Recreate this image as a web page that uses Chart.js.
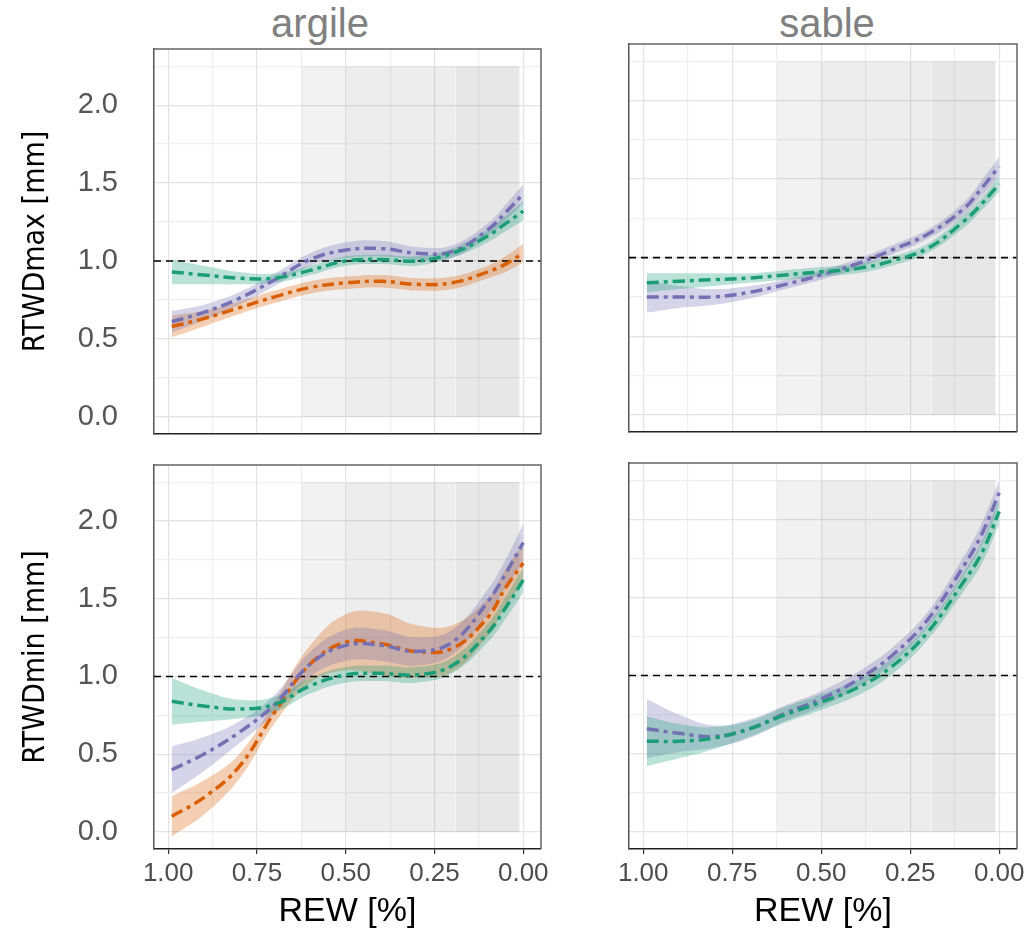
<!DOCTYPE html>
<html>
<head>
<meta charset="utf-8">
<script src="https://cdn.jsdelivr.net/npm/chart.js@4.4.1/dist/chart.umd.min.js"></script>
<style>
  body { margin: 0; background: #fff; width: 1033px; height: 942px; position: relative; overflow: hidden;
         font-family: "Liberation Sans", Arial, sans-serif; }
  .box { position: absolute; }
  .strip { position: absolute; top: 3px; font-size: 40px; line-height: 40px; color: #808080;
           transform: translateX(-50%); white-space: nowrap; }
</style>
</head>
<body>
<div class="strip" style="left:320px">argile</div>
<div class="strip" style="left:827px">sable</div>
<div class="box" style="left:0;top:0"><canvas id="tl" width="548" height="440"></canvas></div>
<div class="box" style="left:600px;top:0"><canvas id="tr" width="433" height="440"></canvas></div>
<div class="box" style="left:0;top:455px"><canvas id="bl" width="548" height="487"></canvas></div>
<div class="box" style="left:600px;top:455px"><canvas id="br" width="433" height="487"></canvas></div>
<script>
// REW values where the smoothed curves were read
const rew = [0.99, 0.9, 0.8, 0.7, 0.6, 0.5, 0.4, 0.3, 0.2, 0.1, 0.05, 0];
const xTicks = [0, 0.125, 0.25, 0.375, 0.5, 0.625, 0.75, 0.875, 1];
const yTicks = [0, 0.25, 0.5, 0.75, 1, 1.25, 1.5, 1.75, 2, 2.25];
const refLevel = 1.0;
// drought window (shaded), REW edges of the three bands and their top
const shadeEdges = [0.625, 0.5, 0.19, 0.01];
const shadeTop = 2.25;

// argile, RTWDmax
const maxArgileGreen  = [0.93, 0.91, 0.89, 0.89, 0.94, 1.00, 1.01, 1.00, 1.05, 1.16, 1.24, 1.32];
const maxArgileGreenCI = [0.08, 0.06, 0.04, 0.03, 0.03, 0.03, 0.03, 0.03, 0.03, 0.04, 0.05, 0.06];
const maxArgileOrange = [0.58, 0.63, 0.70, 0.77, 0.83, 0.86, 0.87, 0.85, 0.86, 0.93, 0.98, 1.05];
const maxArgileOrangeCI = [0.07, 0.05, 0.04, 0.04, 0.04, 0.04, 0.04, 0.04, 0.04, 0.04, 0.05, 0.06];
const maxArgilePurple = [0.61, 0.67, 0.76, 0.88, 1.01, 1.07, 1.08, 1.05, 1.06, 1.20, 1.31, 1.43];
const maxArgilePurpleCI = [0.07, 0.05, 0.04, 0.04, 0.04, 0.05, 0.05, 0.04, 0.04, 0.04, 0.05, 0.06];

// sable, RTWDmax
const maxSableGreen  = [0.84, 0.85, 0.86, 0.87, 0.89, 0.91, 0.93, 0.98, 1.06, 1.23, 1.34, 1.47];
const maxSableGreenCI = [0.06, 0.05, 0.04, 0.03, 0.03, 0.03, 0.03, 0.03, 0.03, 0.04, 0.04, 0.05];
const maxSablePurple = [0.75, 0.75, 0.75, 0.78, 0.83, 0.89, 0.96, 1.05, 1.15, 1.31, 1.44, 1.58];
const maxSablePurpleCI = [0.10, 0.07, 0.05, 0.04, 0.03, 0.03, 0.03, 0.03, 0.03, 0.04, 0.05, 0.06];

// argile, RTWDmin
const minArgileGreen  = [0.84, 0.81, 0.79, 0.82, 0.94, 1.01, 1.02, 1.01, 1.07, 1.28, 1.44, 1.62];
const minArgileGreenCI = [0.15, 0.10, 0.06, 0.05, 0.05, 0.05, 0.05, 0.05, 0.05, 0.06, 0.07, 0.08];
const minArgileOrange = [0.10, 0.22, 0.42, 0.77, 1.08, 1.22, 1.21, 1.16, 1.18, 1.38, 1.57, 1.73];
const minArgileOrangeCI = [0.13, 0.11, 0.08, 0.07, 0.12, 0.18, 0.20, 0.17, 0.15, 0.12, 0.12, 0.12];
const minArgilePurple = [0.40, 0.50, 0.64, 0.82, 1.08, 1.20, 1.20, 1.16, 1.22, 1.48, 1.66, 1.86];
const minArgilePurpleCI = [0.15, 0.11, 0.07, 0.06, 0.08, 0.10, 0.10, 0.09, 0.08, 0.08, 0.09, 0.12];

// sable, RTWDmin
const minSableGreen  = [0.58, 0.58, 0.60, 0.66, 0.75, 0.83, 0.92, 1.06, 1.28, 1.60, 1.78, 2.05];
const minSableGreenCI = [0.16, 0.11, 0.07, 0.05, 0.05, 0.05, 0.05, 0.05, 0.05, 0.06, 0.07, 0.08];
const minSablePurple = [0.66, 0.63, 0.61, 0.66, 0.76, 0.85, 0.97, 1.13, 1.36, 1.70, 1.90, 2.17];
const minSablePurpleCI = [0.19, 0.12, 0.07, 0.06, 0.05, 0.05, 0.05, 0.05, 0.05, 0.06, 0.07, 0.08];

const GREEN = "27,158,119", ORANGE = "217,95,2", PURPLE = "117,112,179";
const shadeColors = ["rgba(0,0,0,0.05)", "rgba(0,0,0,0.07)", "rgba(0,0,0,0.095)"];
const isMajor = v => Math.abs(v * 4 - Math.round(v * 4)) < 1e-6;
const isHalf = v => Math.abs(v * 2 - Math.round(v * 2)) < 1e-6;
const pts = (ys, shift) => rew.map((x, i) => ({ x, y: ys[i] + (shift ? shift[i] : 0) }));
const neg = a => a.map(v => -v);

function seriesSets(vals, ci, rgb) {
  return [
    { data: pts(vals, neg(ci)), borderWidth: 0, pointRadius: 0, fill: false, tension: 0.4, order: 10 },
    { data: pts(vals, ci), borderWidth: 0, pointRadius: 0, fill: "-1", tension: 0.4,
      backgroundColor: `rgba(${rgb},0.3)`, order: 10 },
    { data: pts(vals), borderColor: `rgb(${rgb})`, borderWidth: 3.5, borderDash: [12, 5, 4, 5],
      pointRadius: 0, fill: false, tension: 0.4, order: 1 },
  ];
}

function buildDatasets(series) {
  const sets = [];
  for (let i = 0; i < shadeEdges.length - 1; i++) {
    sets.push({
      data: [{ x: shadeEdges[i], y: shadeTop }, { x: shadeEdges[i + 1], y: shadeTop }],
      borderWidth: 0, pointRadius: 0, fill: "origin", backgroundColor: shadeColors[i], order: 20,
    });
  }
  sets.push({
    data: [{ x: 1.04, y: refLevel }, { x: -0.05, y: refLevel }],
    borderColor: "#000", borderWidth: 1.6, borderDash: [7, 5], pointRadius: 0, fill: false, order: 5,
  });
  series.forEach(s => sets.push(...seriesSets(s[0], s[1], s[2])));
  return sets;
}

const frame = {
  id: "frame",
  afterDraw(chart) {
    const { ctx, chartArea: a } = chart;
    ctx.save();
    ctx.strokeStyle = "#666";
    ctx.lineWidth = 1.5;
    ctx.beginPath();
    ctx.moveTo(a.left, a.top);
    ctx.lineTo(a.right, a.top);
    ctx.lineTo(a.right, a.bottom);
    ctx.stroke();
    ctx.restore();
  },
};

function makeChart(id, p) {
  new Chart(document.getElementById(id), {
    type: "line",
    data: { datasets: buildDatasets(p.series) },
    options: {
      responsive: false,
      animation: false,
      layout: { padding: p.pad },
      plugins: { legend: { display: false }, tooltip: { enabled: false } },
      scales: {
        x: {
          type: "linear", reverse: true, min: -0.05, max: 1.04,
          afterBuildTicks: s => { s.ticks = xTicks.map(v => ({ value: v })); },
          afterFit: s => { s.height = p.xh; s.paddingLeft = 0; s.paddingRight = 0; },
          grid: {
            color: c => (isMajor(c.tick.value) ? "#e3e3e3" : "#efefef"),
            lineWidth: 1.2,
            drawTicks: p.bottom,
            tickLength: 5,
            tickColor: c => (isMajor(c.tick.value) ? "#333" : "rgba(0,0,0,0)"),
          },
          border: { color: "#222", width: 1.6 },
          ticks: {
            display: p.bottom, autoSkip: false, maxRotation: 0, padding: 4, color: "#4d4d4d",
            font: { family: '"Liberation Sans", Arial', size: 26 },
            callback: v => (isMajor(v) ? v.toFixed(2) : ""),
          },
          title: {
            display: p.bottom, text: "REW [%]", color: "#000",
            font: { family: '"Liberation Sans", Arial', size: 34 },
            padding: { top: 0, bottom: 10 },
          },
        },
        y: {
          type: "linear", min: -0.11, max: 2.36,
          afterBuildTicks: s => { s.ticks = yTicks.map(v => ({ value: v })); },
          // keep the panel edge fixed: no extra room for the end labels
          afterFit: s => { s.width = p.yw; s.paddingTop = 0; s.paddingBottom = 0; },
          grid: {
            color: c => (isHalf(c.tick.value) ? "#e3e3e3" : "#efefef"),
            lineWidth: 1.2,
            drawTicks: false,
          },
          border: { color: "#555", width: 1.5 },
          ticks: {
            display: p.left, autoSkip: false, padding: 36, color: "#555",
            font: { family: '"Liberation Sans", Arial', size: 29 },
            callback: v => (isHalf(v) ? v.toFixed(1) : ""),
          },
          title: {
            display: p.left, text: p.ytitle, color: "#000",
            font: { family: '"Liberation Sans Narrow", "Arial Narrow", "DejaVu Sans Condensed", sans-serif', size: 30 },
            padding: { top: 18, bottom: 0 },
          },
        },
      },
    },
    plugins: [frame],
  });
}

makeChart("tl", {
  pad: { top: 49, right: 7, bottom: 6, left: 0 }, yw: 154, xh: 0, left: true, bottom: false,
  ytitle: "RTWDmax [mm]",
  series: [[maxArgileGreen, maxArgileGreenCI, GREEN], [maxArgilePurple, maxArgilePurpleCI, PURPLE],
           [maxArgileOrange, maxArgileOrangeCI, ORANGE]],
});
makeChart("tr", {
  pad: { top: 44, right: 16, bottom: 8, left: 0 }, yw: 29, xh: 0, left: false, bottom: false,
  series: [[maxSableGreen, maxSableGreenCI, GREEN], [maxSablePurple, maxSablePurpleCI, PURPLE]],
});
makeChart("bl", {
  pad: { top: 10, right: 7, bottom: 0, left: 0 }, yw: 154, xh: 93, left: true, bottom: true,
  ytitle: "RTWDmin [mm]",
  series: [[minArgileGreen, minArgileGreenCI, GREEN], [minArgilePurple, minArgilePurpleCI, PURPLE],
           [minArgileOrange, minArgileOrangeCI, ORANGE]],
});
makeChart("br", {
  pad: { top: 8, right: 16, bottom: 0, left: 0 }, yw: 29, xh: 93, left: false, bottom: true,
  series: [[minSableGreen, minSableGreenCI, GREEN], [minSablePurple, minSablePurpleCI, PURPLE]],
});
</script>
</body>
</html>
